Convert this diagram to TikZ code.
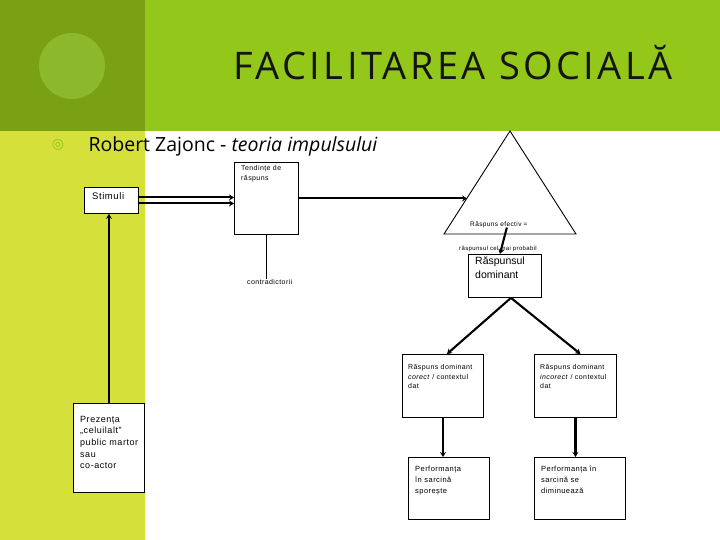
\documentclass[tikz,border=0pt]{standalone}
\usepackage{fontspec}
\setmainfont{Liberation Sans}
\newfontfamily\headf[LetterSpace=9]{Open Sans}
\newfontfamily\subf{Open Sans}
\newfontfamily\diagf[LetterSpace=6]{Liberation Sans}
\newfontfamily\domf{Liberation Sans}
\newfontfamily\symf{DejaVu Sans}
\usepackage{xcolor}
\definecolor{BarGreen}{HTML}{93C81A}
\definecolor{PanelGreen}{HTML}{7AA014}
\definecolor{DiscGreen}{HTML}{8CB82B}
\definecolor{StripLime}{HTML}{D5E03B}
\definecolor{TitleInk}{HTML}{141414}
\usetikzlibrary{arrows.meta, positioning, calc}
\tikzset{
  bx/.style={rectangle, draw, line width=0.9pt, fill=white, inner sep=0pt, anchor=north west},
  tx/.style 2 args={inner sep=0pt, align=left, font=\diagf\fontsize{#1}{#2}\selectfont},
  arr/.style={-{Stealth[length=5pt, width=6pt]}, line width=2.1pt},
  ln/.style={line width=0.9pt},
}

\begin{document}
\begin{tikzpicture}[x=1pt, y=-1pt]
  \useasboundingbox (0,0) rectangle (720,540);

  % Background
  \fill[white] (0,0) rectangle (720,540);
  \fill[StripLime] (0,130) rectangle (145,540);
  \fill[BarGreen] (0,0) rectangle (720,131);
  \fill[PanelGreen] (0,0) rectangle (145,131);
  \fill[DiscGreen] (72,66) circle[radius=33pt];

  % Title
  \node[font=\headf\fontsize{38}{40}\selectfont, text=TitleInk, anchor=base] (title) at (453,80) {FACILITAREA SOCIALĂ};
  \node[font=\symf\fontsize{14}{14}\selectfont, text=BarGreen] (bul) at (58,145) {◎};
  \node[font=\subf\fontsize{19.5}{20}\selectfont, anchor=base west] (sub) at (85,152)
    {Robert Zajonc - \textit{teoria impulsului}};

  % Stimuli
  \node[bx, minimum width=54pt, minimum height=26pt] (stim) at (84,187) {};
  \node[tx={9.5}{11}, below right=5pt and 8pt of stim.north west] (stimt) {Stimuli};

  % Tendinte de raspuns
  \node[bx, minimum width=64pt, minimum height=72pt] (tend) at (234,162) {};
  \node[tx={7}{10.3}, below right=3pt and 7pt of tend.north west] (tendt) {Tendințe de\\răspuns};
  \node[tx={7}{8}, anchor=base west] (contra) at (247,284) {contradictorii};

  % Prezenta
  \node[bx, minimum width=71pt, minimum height=89pt] (pres) at (73,403) {};
  \node[tx={9}{11.6}, below right=13pt and 7pt of pres.north west] (prest)
    {Prezența\\„celuilalt”\\public martor\\sau\\co-actor};

  % Triangle
  \coordinate (tritop) at (510,131);
  \coordinate (trileft) at (444,234);
  \coordinate (triright) at (576,234);
  \draw[ln] (tritop) -- (triright) -- (trileft) -- cycle;
  \coordinate (tin) at ($(trileft)!0.35!(tritop)$);
  \node[tx={6.5}{8}, anchor=base west] (efectiv) at (470,226) {Răspuns efectiv =};
  \node[tx={6}{8}, anchor=base west] (probabil) at (459,251) {răspunsul cel mai probabil};

  % Raspunsul dominant
  \node[bx, minimum width=73pt, minimum height=43pt] (dom) at (468,254) {};
  \node[inner sep=0pt, align=left, font=\domf\fontsize{10.5}{14}\selectfont,
        below right=3pt and 7pt of dom.north west] (domt) {Răspunsul\\dominant};

  % Corect / incorect
  \node[bx, minimum width=81pt, minimum height=63pt] (corect) at (402,354) {};
  \node[tx={7}{9.7}, below right=10pt and 6pt of corect.north west] (corectt)
    {Răspuns dominant\\\textit{corect} / contextul\\dat};
  \node[bx, minimum width=82pt, minimum height=63pt] (incorect) at (534,354) {};
  \node[tx={7}{9.7}, below right=10pt and 6pt of incorect.north west] (incorectt)
    {Răspuns dominant\\\textit{incorect} / contextul\\dat};

  % Performanta
  \node[bx, minimum width=81pt, minimum height=62pt] (perfup) at (408,457) {};
  \node[tx={7.5}{11}, below right=9pt and 7pt of perfup.north west] (perfupt)
    {Performanța\\în sarcină\\sporește};
  \node[bx, minimum width=91pt, minimum height=62pt] (perfdown) at (534,457) {};
  \node[tx={7.5}{11}, below right=9pt and 7pt of perfdown.north west] (perfdownt)
    {Performanța în\\sarcină se\\diminuează};

  % Arrows
  \draw[arr] ([yshift=3pt]stim.east) -- ([yshift=3pt]stim.east -| tend.west);
  \draw[arr] ([yshift=-3pt]stim.east) -- ([yshift=-3pt]stim.east -| tend.west);
  \draw[arr] (tend.east) -- (tend.east -| tin);
  \draw[ln] (tend.south) -- (tend.south |- contra.north);
  \draw[arr] (pres.north) -- (pres.north |- stim.south);
  \draw[arr] ([xshift=8pt]efectiv.south) -- ([xshift=-5pt]dom.north);
  \draw[arr] ([xshift=6pt]dom.south) -- ([xshift=4pt]corect.north);
  \draw[arr] ([xshift=6pt]dom.south) -- ([xshift=5pt]incorect.north);
  \draw[arr] (corect.south) -- (corect.south |- perfup.north);
  \draw[arr] (incorect.south) -- (incorect.south |- perfdown.north);

\end{tikzpicture}
\end{document}
